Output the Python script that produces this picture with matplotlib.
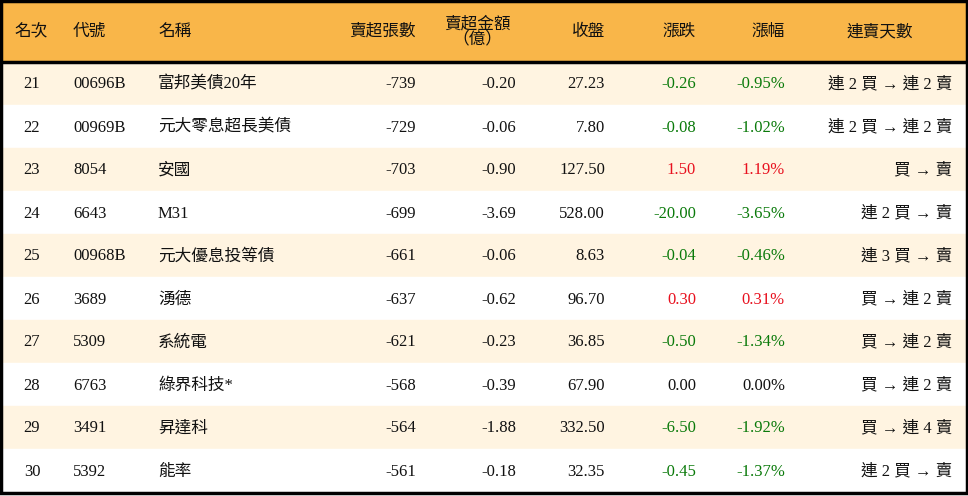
import matplotlib
matplotlib.use('Agg')
import matplotlib.pyplot as plt
from matplotlib.patches import Rectangle

ranks = [21, 22, 23, 24, 25, 26, 27, 28, 29, 30]
codes = ["00696B", "00969B", "8054", "6643", "00968B", "3689", "5309", "6763", "3491", "5392"]
names = ["富邦美債20年", "元大零息超長美債", "安國", "M31", "元大優息投等債", "湧德", "系統電", "綠界科技*", "昇達科", "能率"]
net_sell = [-739, -729, -703, -699, -661, -637, -621, -568, -564, -561]
amount = [-0.20, -0.06, -0.90, -3.69, -0.06, -0.62, -0.23, -0.39, -1.88, -0.18]
close = [27.23, 7.80, 127.50, 528.00, 8.63, 96.70, 36.85, 67.90, 332.50, 32.35]
change = [-0.26, -0.08, 1.50, -20.00, -0.04, 0.30, -0.50, 0.00, -6.50, -0.45]
pct = [-0.95, -1.02, 1.19, -3.65, -0.46, 0.31, -1.34, 0.00, -1.92, -1.37]
streak = ["連 2 買 → 連 2 賣", "連 2 買 → 連 2 賣", "買 → 賣", "連 2 買 → 賣", "連 3 買 → 賣",
          "買 → 連 2 賣", "買 → 連 2 賣", "買 → 連 2 賣", "買 → 連 4 賣", "連 2 買 → 賣"]

W, H = 968, 496
HEAD = 62
ROW = 43
FONT = ['Liberation Serif', 'Noto Sans CJK TC']
fs = 12

fig = plt.figure(figsize=(W / 100, H / 100), dpi=100)
ax = fig.add_axes([0, 0, 1, 1])
ax.set_xlim(0, W)
ax.set_ylim(H, 0)
ax.axis('off')

ax.add_patch(Rectangle((0, 0), W, HEAD, color='#F9B649', zorder=0))
for i in range(len(ranks)):
    c = '#FFF4E1' if i % 2 == 0 else 'white'
    ax.add_patch(Rectangle((0, HEAD + i * ROW), W, ROW, color=c, zorder=0))
ax.plot([0, W], [HEAD, HEAD], color='black', lw=2.5)
ax.add_patch(Rectangle((1, 1), W - 2, HEAD + ROW * len(ranks), fill=False, ec='black', lw=2.5))

def txt(x, y, s, ha='left', color='#111111'):
    ax.text(x, y, s, ha=ha, va='center', fontsize=fs, color=color, family=FONT)

hy = HEAD / 2 + 1
txt(14, hy, "名次")
txt(73, hy, "代號")
txt(158, hy, "名稱")
txt(416, hy, "賣超張數", ha='right')
ax.text(477, hy, "賣超金額\n（億）", ha='center', va='center', fontsize=fs,
        color='#111111', family=FONT, linespacing=0.95)
txt(605, hy, "收盤", ha='right')
txt(696, hy, "漲跌", ha='right')
txt(785, hy, "漲幅", ha='right')
txt(880, hy, "連賣天數", ha='center')

def col(v):
    if v > 0:
        return '#E8101E'
    if v < 0:
        return '#0A7A0A'
    return '#111111'

for i in range(len(ranks)):
    y = HEAD + i * ROW + ROW / 2 + 1
    txt(32, y, str(ranks[i]), ha='center')
    txt(73, y, codes[i])
    txt(158, y, names[i])
    txt(416, y, f"{net_sell[i]}", ha='right')
    txt(516, y, f"{amount[i]:.2f}", ha='right')
    txt(605, y, f"{close[i]:.2f}", ha='right')
    txt(696, y, f"{change[i]:.2f}", ha='right', color=col(change[i]))
    txt(785, y, f"{pct[i]:.2f}%", ha='right', color=col(pct[i]))
    txt(952, y, streak[i], ha='right')

fig.savefig('out.png', dpi=100)
